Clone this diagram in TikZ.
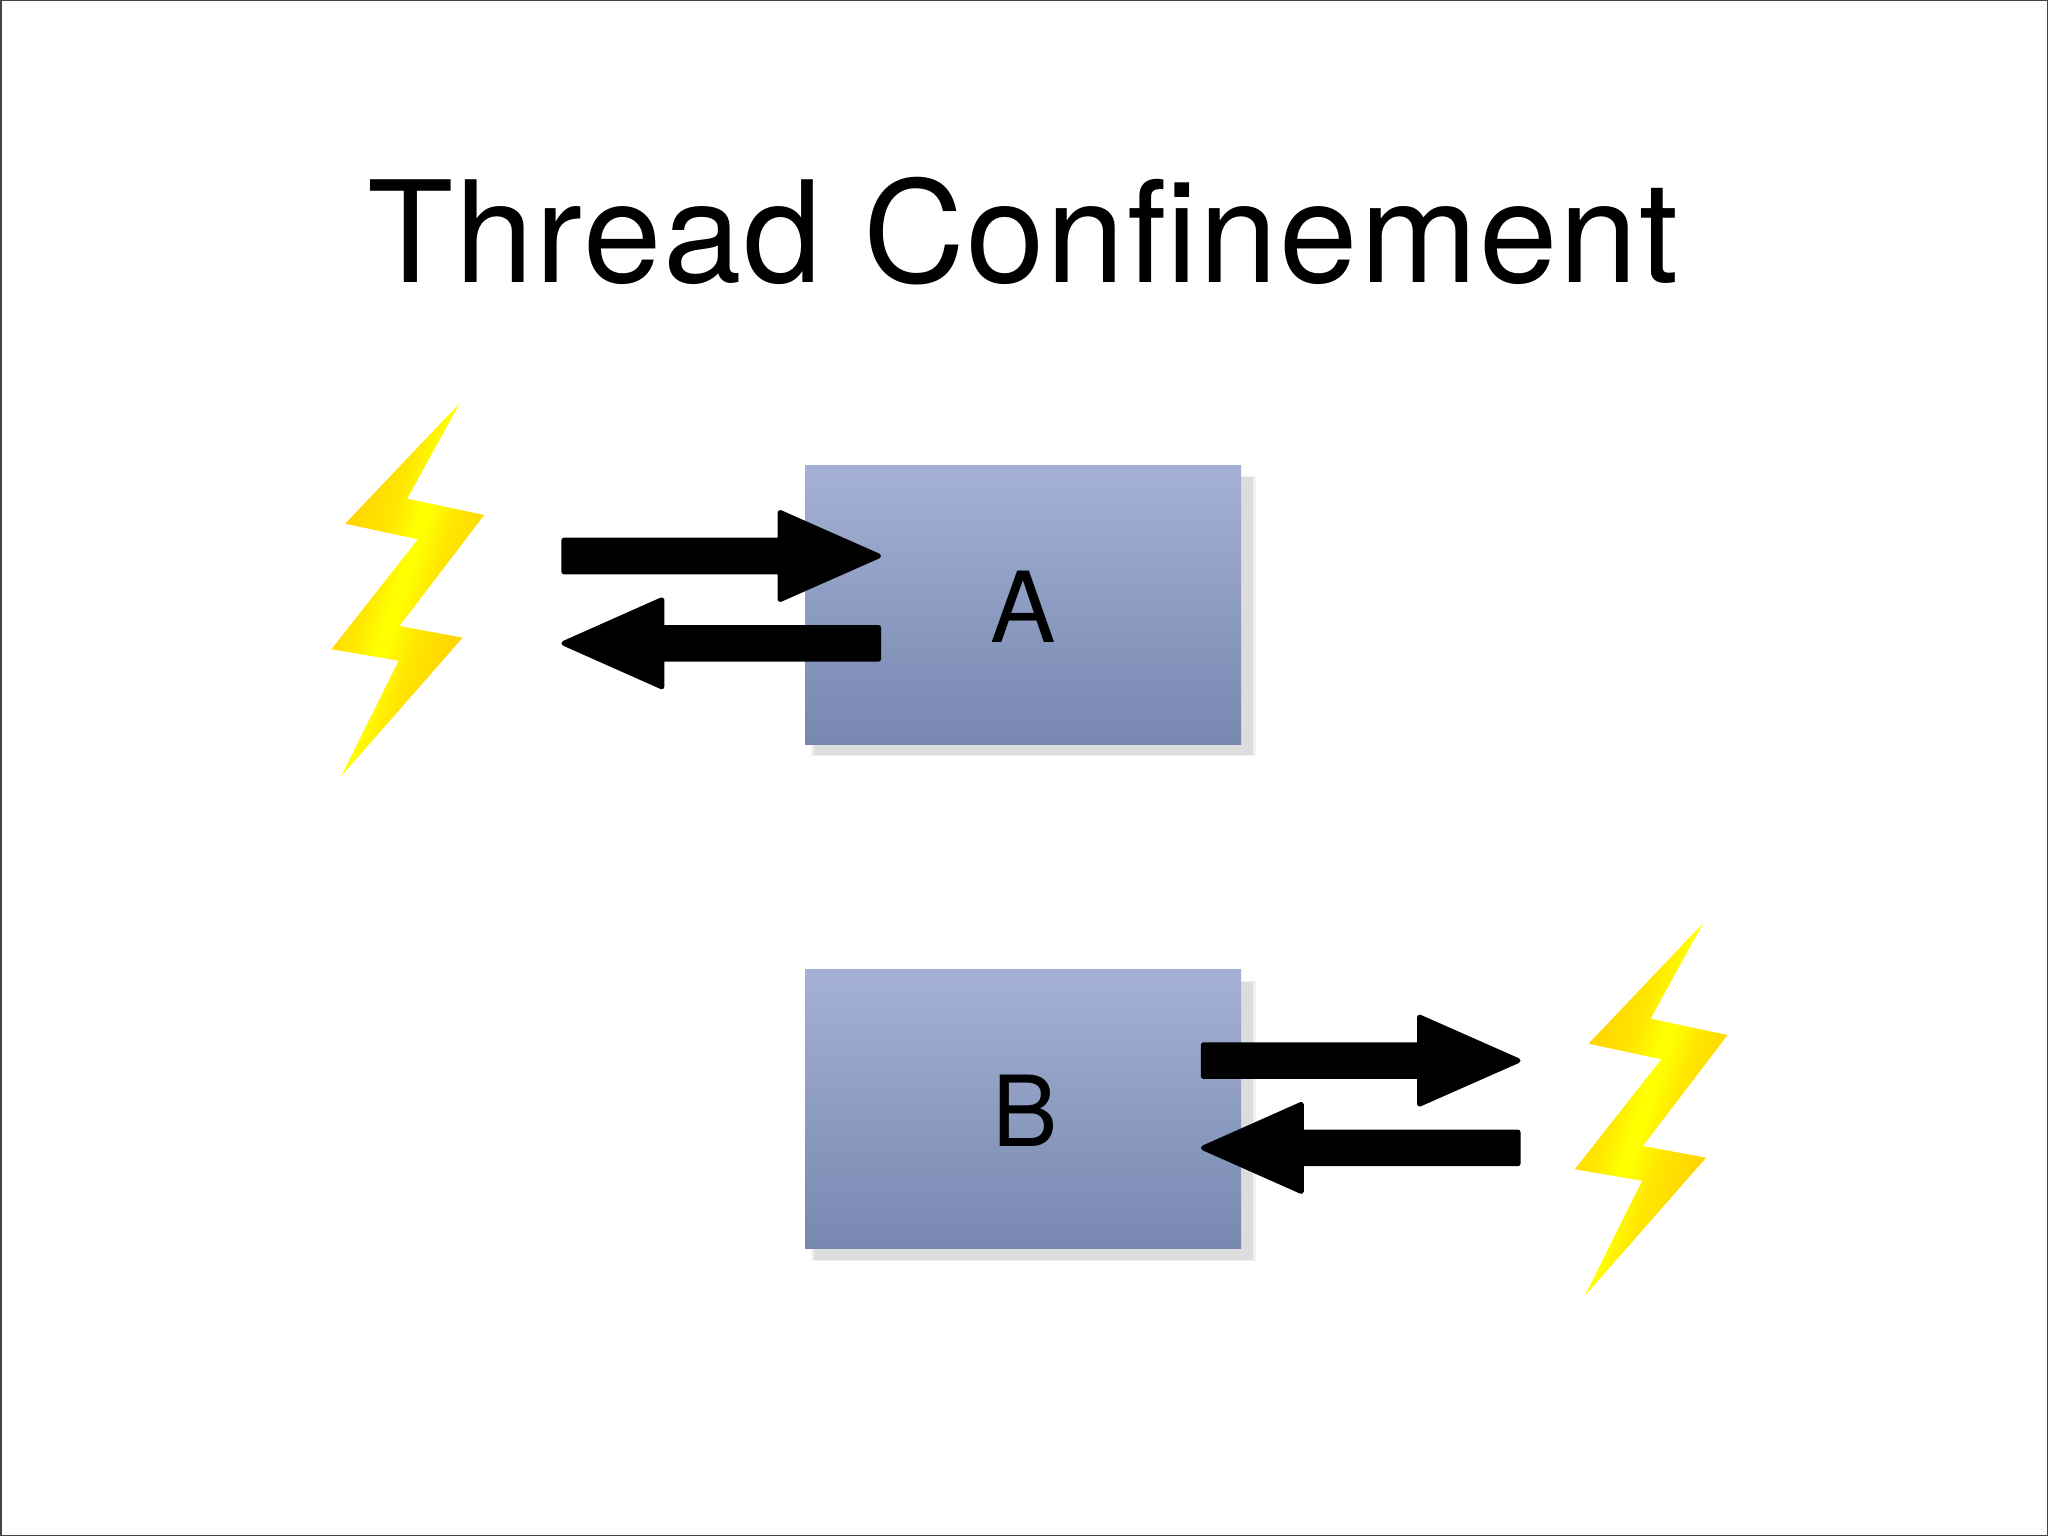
\documentclass[tikz,border=0pt]{standalone}
\usepackage{fontspec}
\setmainfont{TeX Gyre Heros}
\newfontfamily\titlefont[LetterSpace=1.3]{TeX Gyre Heros}
\definecolor{boxtop}{HTML}{A4B1D4}
\definecolor{boxbot}{HTML}{7787B0}
\definecolor{shadowgray}{HTML}{DDDDDD}
\definecolor{shadowsoft}{HTML}{F1F1F1}
\definecolor{boltgold}{HTML}{FFD200}
\definecolor{boltmid}{HTML}{FFE600}
\definecolor{boltyellow}{HTML}{FFFF00}
\definecolor{framegray}{HTML}{444444}
\pgfdeclarehorizontalshading{boltshade}{520bp}{color(0bp)=(boltgold); color(25bp)=(boltgold); color(70bp)=(boltmid); color(96bp)=(boltyellow); color(104bp)=(boltyellow); color(130bp)=(boltmid); color(175bp)=(boltgold); color(200bp)=(boltgold)}
\tikzset{
  title text/.style={inner sep=0pt,anchor=base,font=\titlefont\fontsize{141}{141}\selectfont},
  box text/.style={inner sep=0pt,anchor=base,font=\fontsize{98}{98}\selectfont},
  panel/.style={anchor=north west,inner sep=0pt,outer sep=0pt,minimum width=436pt,minimum height=279pt,top color=boxtop,bottom color=boxbot},
  panel shadow/.style={anchor=north west,inner sep=0pt,minimum width=439pt,minimum height=278pt,fill=shadowgray},
  panel glow/.style={anchor=north west,inner sep=0pt,minimum width=445pt,minimum height=280pt,fill=shadowsoft},
  block arrow/.style={fill=black,draw=black,line width=5pt,line join=round},
}
\newcommand{\arrowright}[1]{%
  \path[block arrow,shift={#1}] (2.5,-15.8) -- (218.7,-15.8) -- (218.7,-43.5) -- (317.1,0) -- (218.7,43.5) -- (218.7,15.8) -- (2.5,15.8) -- cycle;}
\newcommand{\arrowleft}[1]{%
  \path[block arrow,shift={#1}] (2.5,0) -- (100.4,-43.5) -- (100.4,-15.8) -- (317.1,-15.8) -- (317.1,15.8) -- (100.4,15.8) -- (100.4,43.5) -- cycle;}
\newcommand{\boltshape}[1]{%
  \begin{scope}[shift={#1}]
    \clip (459.6,403.3) -- (407.2,498.7) -- (484.1,515) -- (399.5,626) -- (462.6,637.7) -- (341.3,776) -- (398.7,660.7) -- (331.4,649.3) -- (417.9,539.3) -- (345.2,523.7) -- cycle;
    \begin{scope}[shift={(400,590)}]
      \pgftext[rotate=-17.6]{\pgfuseshading{boltshade}}
    \end{scope}
  \end{scope}}
\begin{document}
\begin{tikzpicture}[x=1pt,y=-1pt]
  \useasboundingbox (0,0) rectangle (2048,1536);
  \fill[white] (0,0) rectangle (2048,1536);
  \draw[framegray,line width=1.5pt] (0.75,0.75) rectangle (2047.25,1535.25);
  \node[title text] (title) at (1023.3,282) {Thread Confinement};

  \node[panel glow] (glA) at (811,476) {};
  \node[panel shadow] (shA) at (814,477) {};
  \node[panel] (boxA) at (805.2,465) {};
  \node[box text] (lblA) at (1023.5,642.6) {A};
  \node[panel glow] (glB) at (811,980.5) {};
  \node[panel shadow] (shB) at (814,981.5) {};
  \node[panel] (boxB) at (805.2,969.5) {};
  \node[box text] (lblB) at (1025,1146.7) {B};

  \arrowright{(561.4,556)}
  \arrowleft{(561.4,643.3)}
  \arrowright{(1200.9,1060.6)}
  \arrowleft{(1200.9,1147.9)}

  \boltshape{(0,0)}
  \boltshape{(1243.4,520)}
\end{tikzpicture}
\end{document}
